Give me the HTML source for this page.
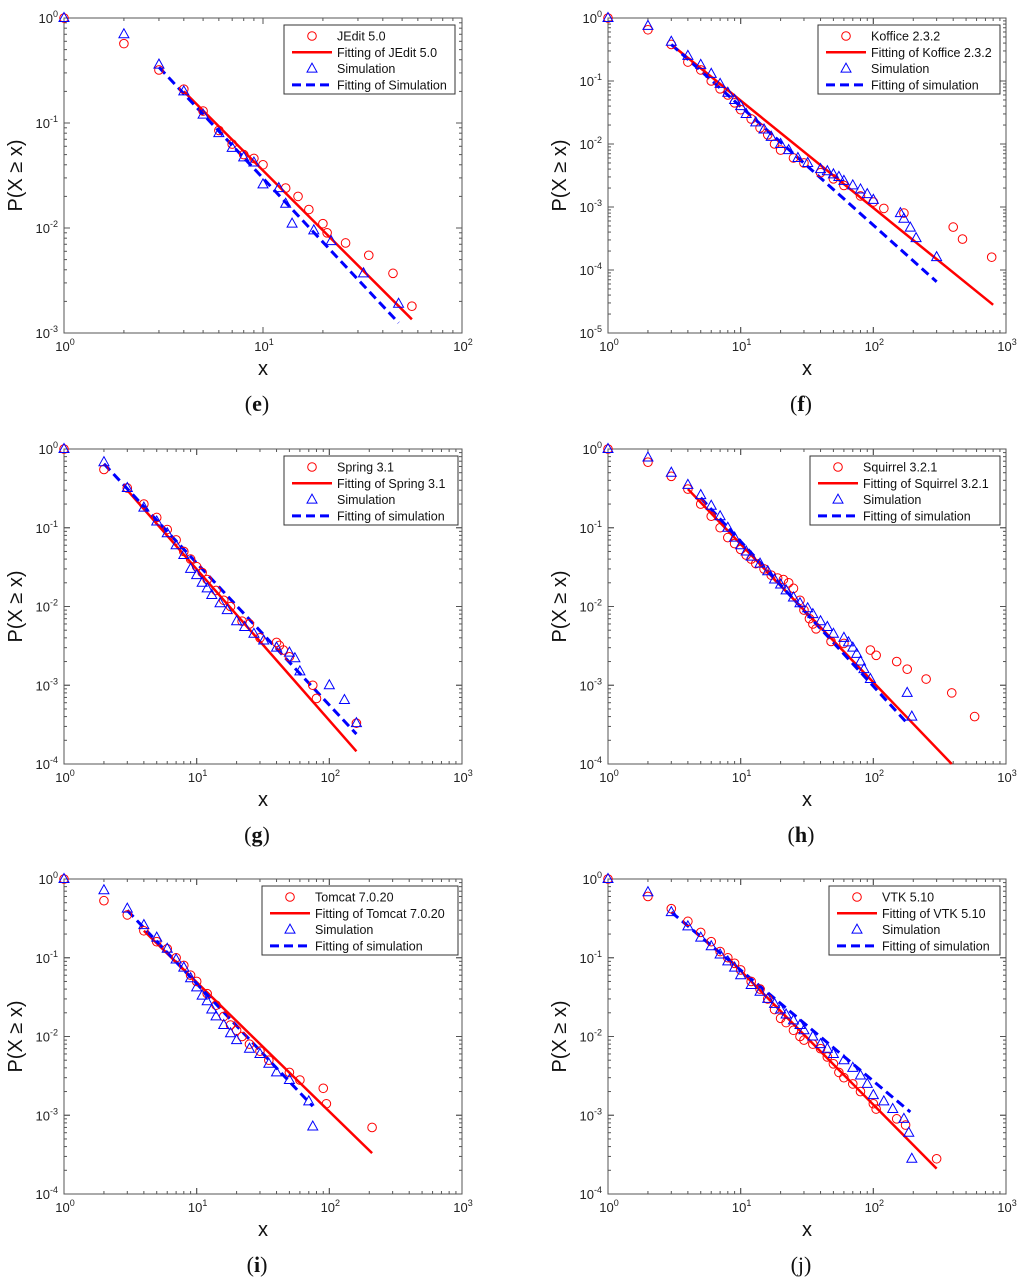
<!DOCTYPE html>
<html><head><meta charset="utf-8"><style>
html,body{margin:0;padding:0;background:#fff;}
svg{display:block;font-family:"Liberation Sans",Arial,sans-serif;}
</style></head><body>
<svg id="fig" width="1024" height="1284" viewBox="0 0 1024 1284" xmlns="http://www.w3.org/2000/svg"></svg>
<script>
// ---- data arrays ----
const eRedX=[1,2,3,4,5,6,7,8,9,10,13,15,17,20,21,26,34,45,56];
const eRedY=[1,0.57,0.32,0.21,0.13,0.085,0.063,0.05,0.046,0.04,0.024,0.02,0.015,0.011,0.009,0.0072,0.0055,0.0037,0.0018];
const eBlueX=[1,2,3,4,5,6,7,8,9,10,12,13,14,18,22,32,48];
const eBlueY=[1,0.7,0.36,0.2,0.12,0.08,0.058,0.047,0.042,0.026,0.024,0.017,0.011,0.0095,0.0075,0.0037,0.0019];
const eRedFitX=[4,56], eRedFitY=[0.2,0.00135];
const eBlueFitX=[3,48], eBlueFitY=[0.34,0.00125];

const fRedX=[1,2,3,4,5,6,7,8,9,10,12,14,16,18,20,25,30,40,50,60,80,100,120,170,400,470,780];
const fRedY=[1,0.65,0.38,0.2,0.15,0.1,0.075,0.06,0.045,0.035,0.025,0.018,0.014,0.01,0.008,0.006,0.005,0.0035,0.0028,0.0022,0.0015,0.0012,0.00095,0.0008,0.00048,0.00031,0.00016];
const fBlueX=[1,2,3,4,5,6,7,8,9,10,11,13,15,17,20,23,27,32,40,45,50,55,60,70,80,90,100,160,170,190,210,300];
const fBlueY=[1,0.75,0.42,0.25,0.18,0.13,0.09,0.065,0.05,0.04,0.03,0.022,0.017,0.013,0.01,0.008,0.006,0.005,0.004,0.0037,0.0033,0.003,0.0026,0.0022,0.0019,0.0016,0.0013,0.0008,0.00065,0.00047,0.00032,0.00016];
const fRedFitX=[3,800], fRedFitY=[0.38,2.8e-5];
const fBlueFitX=[3,300], fBlueFitY=[0.38,6.5e-5];

const gRedX=[1,2,3,4,5,6,7,8,9,10,11,12,14,16,18,22,25,30,40,42,45,50,75,80,160];
const gRedY=[1,0.55,0.32,0.2,0.135,0.095,0.07,0.05,0.04,0.032,0.027,0.022,0.016,0.012,0.01,0.0065,0.006,0.004,0.0035,0.0032,0.0028,0.0023,0.001,0.00068,0.00033];
const gBlueX=[1,2,3,4,5,6,7,8,9,10,11,12,13,15,17,20,23,27,32,40,50,55,60,100,130,160];
const gBlueY=[1,0.68,0.32,0.18,0.12,0.085,0.06,0.045,0.03,0.025,0.02,0.017,0.014,0.011,0.009,0.0065,0.0055,0.0045,0.0037,0.003,0.0026,0.0022,0.0015,0.001,0.00065,0.00033];
const gRedFitX=[3,160], gRedFitY=[0.3,1.45e-4];
const gBlueFitX=[2,160], gBlueFitY=[0.65,2.4e-4];

const hRedX=[1,2,3,4,5,6,7,8,9,10,11,12,13,15,17,19,21,23,25,28,30,33,35,37,48,60,95,105,150,180,250,390,580];
const hRedY=[1,0.68,0.45,0.31,0.2,0.14,0.1,0.075,0.063,0.053,0.045,0.04,0.035,0.03,0.025,0.023,0.022,0.02,0.017,0.012,0.009,0.007,0.006,0.0052,0.0036,0.0034,0.0028,0.0024,0.002,0.0016,0.0012,0.0008,0.0004];
const hBlueX=[1,2,3,4,5,6,7,8,9,10,11,12,14,16,18,20,22,25,28,32,35,40,45,50,60,65,70,75,80,85,95,180,195];
const hBlueY=[1,0.78,0.5,0.35,0.26,0.19,0.14,0.1,0.075,0.06,0.05,0.043,0.035,0.028,0.022,0.019,0.016,0.013,0.011,0.0095,0.008,0.0065,0.0055,0.0045,0.004,0.0035,0.003,0.0025,0.002,0.0016,0.0012,0.0008,0.0004];
const hRedFitX=[4,390], hRedFitY=[0.31,1e-4];
const hBlueFitX=[5,180], hBlueFitY=[0.24,3.3e-4];

const iRedX=[1,2,3,4,5,6,7,8,9,10,12,14,16,18,20,22,25,30,35,50,60,90,95,210];
const iRedY=[1,0.53,0.35,0.22,0.16,0.13,0.1,0.08,0.06,0.05,0.035,0.025,0.018,0.014,0.012,0.01,0.008,0.0065,0.005,0.0035,0.0028,0.0022,0.0014,0.0007];
const iBlueX=[1,2,3,4,5,6,7,8,9,10,11,12,13,14,16,18,20,25,30,35,40,50,70,75];
const iBlueY=[1,0.72,0.42,0.26,0.18,0.13,0.095,0.075,0.055,0.042,0.033,0.028,0.022,0.018,0.014,0.011,0.009,0.007,0.006,0.0045,0.0035,0.0028,0.0015,0.00072];
const iRedFitX=[4,210], iRedFitY=[0.22,3.3e-4];
const iBlueFitX=[3,75], iBlueFitY=[0.4,0.0013];

const jRedX=[1,2,3,4,5,6,7,8,9,10,12,14,16,18,20,22,25,28,30,35,40,45,50,55,60,70,80,100,105,150,175,300];
const jRedY=[1,0.6,0.42,0.29,0.21,0.16,0.12,0.1,0.085,0.07,0.05,0.04,0.03,0.022,0.017,0.015,0.012,0.01,0.009,0.008,0.007,0.0055,0.0045,0.0035,0.003,0.0025,0.002,0.0014,0.0012,0.0009,0.00075,0.00028];
const jBlueX=[1,2,3,4,5,6,7,8,9,10,12,14,16,18,20,22,25,28,30,35,40,45,50,60,70,80,90,100,120,140,170,185,195];
const jBlueY=[1,0.68,0.38,0.25,0.18,0.14,0.11,0.09,0.075,0.06,0.045,0.037,0.03,0.026,0.022,0.019,0.016,0.014,0.012,0.01,0.008,0.007,0.006,0.005,0.004,0.0032,0.0025,0.0018,0.0015,0.0012,0.0009,0.0006,0.00028];
const jRedFitX=[8,300], jRedFitY=[0.1,2.1e-4];
const jBlueFitX=[3,190], jBlueFitY=[0.38,0.0011];

const legendNames={e:["JEdit 5.0","Fitting of JEdit 5.0","Simulation","Fitting of Simulation"],
 f:["Koffice 2.3.2","Fitting of Koffice 2.3.2","Simulation","Fitting of simulation"],
 g:["Spring 3.1","Fitting of Spring 3.1","Simulation","Fitting of simulation"],
 h:["Squirrel 3.2.1","Fitting of Squirrel 3.2.1","Simulation","Fitting of simulation"],
 i:["Tomcat 7.0.20","Fitting of Tomcat 7.0.20","Simulation","Fitting of simulation"],
 j:["VTK 5.10","Fitting of VTK 5.10","Simulation","Fitting of simulation"]};

const NS="http://www.w3.org/2000/svg";
const fig=document.getElementById('fig');
function mk(tag,attrs,parent){const el=document.createElementNS(NS,tag);for(const k in attrs)el.setAttribute(k,attrs[k]);(parent||fig).appendChild(el);return el;}

function panel(id,L,T,xDec,yDec,legX,legW,rx,ry,bx,by,rfx,rfy,bfx,bfy){
  const W=398,H=315;
  const g=mk('g',{});
  
  
  const sx=v=>L+Math.log10(v)/xDec*W;
  const sy=v=>T+(-Math.log10(v))/yDec*H;
  const frame=mk('rect',{x:L,y:T,width:W,height:H,fill:'#fff',stroke:'#555','stroke-width':1},g);
  
  
  for(let d=0;d<xDec;d++){for(let m=1;m<=10;m++){const v=Math.pow(10,d)*m;const x=sx(v);const len=(m===1||m===10)?6:3;
    mk('line',{x1:x,y1:T+H,x2:x,y2:T+H-len,stroke:'#555'},g);mk('line',{x1:x,y1:T,x2:x,y2:T+len,stroke:'#555'},g);}}
  for(let d=0;d<yDec;d++){for(let m=1;m<=10;m++){const v=Math.pow(10,-d-1)*m;const y=sy(v);const len=(m===1||m===10)?6:3;
    mk('line',{x1:L,y1:y,x2:L+len,y2:y,stroke:'#555'},g);mk('line',{x1:L+W,y1:y,x2:L+W-len,y2:y,stroke:'#555'},g);}}
  for(let d=0;d<=xDec;d++){const t=mk('text',{x:sx(Math.pow(10,d))+1,y:T+H+18,'font-size':13,'text-anchor':'middle',fill:'#222'},g);
    
    t.innerHTML='10<tspan dy="-6" font-size="9">'+d+'</tspan>';}
  for(let d=0;d<=yDec;d++){const t=mk('text',{x:L-6,y:sy(Math.pow(10,-d))+5,'font-size':13,'text-anchor':'end',fill:'#222'},g);
    
    t.innerHTML='10<tspan dy="-6" font-size="9">'+(d===0?'0':'-'+d)+'</tspan>';}
  const xl=mk('text',{x:L+W/2,y:T+H+42,'font-size':20,'text-anchor':'middle',fill:'#111'},g);xl.textContent='x';
  
  const yl=mk('text',{x:0,y:0,'font-size':20,'text-anchor':'middle',fill:'#111',transform:'translate('+(L-42)+','+(T+H/2)+') rotate(-90)'},g);yl.textContent='P(X \u2265 x)';
  
  const cap=mk('text',{x:L+W/2-6,y:T+H+78,'font-size':22,'text-anchor':'middle',fill:'#111','font-family':'"Liberation Serif",serif'},g);
  cap.innerHTML= id==='j' ? '(j)' : '(<tspan font-weight="bold">'+id+'</tspan>)';
  
  const rf=mk('line',{x1:sx(rfx[0]),y1:sy(rfy[0]),x2:sx(rfx[1]),y2:sy(rfy[1]),stroke:'#f00','stroke-width':2.5},g);
  
  const bf=mk('line',{x1:sx(bfx[0]),y1:sy(bfy[0]),x2:sx(bfx[1]),y2:sy(bfy[1]),stroke:'#00f','stroke-width':3,'stroke-dasharray':'9,5'},g);
  
  for(let k=0;k<rx.length;k++){const c=mk('circle',{cx:sx(rx[k]),cy:sy(ry[k]),r:4.3,fill:'none',stroke:'#f00','stroke-width':1},g);
    }
  for(let k=0;k<bx.length;k++){const x=sx(bx[k]),y=sy(by[k]);
    const p=mk('polygon',{points:(x)+','+(y-5.5)+' '+(x-5)+','+(y+3.5)+' '+(x+5)+','+(y+3.5),fill:'none',stroke:'#00f','stroke-width':1},g);
    }
  const lg=mk('g',{},g);
  
  const ly=T+7;
  mk('rect',{x:legX,y:ly,width:legW,height:69,fill:'#fff',stroke:'#333'},lg);
  const names=legendNames[id];
  for(let r=0;r<4;r++){const yy=ly+11+r*16.3;const cx=legX+28;
    if(r===0)mk('circle',{cx:cx,cy:yy,r:4.3,fill:'none',stroke:'#f00'},lg);
    if(r===1)mk('line',{x1:legX+8,y1:yy,x2:legX+48,y2:yy,stroke:'#f00','stroke-width':2.5},lg);
    if(r===2)mk('polygon',{points:cx+','+(yy-5.5)+' '+(cx-5)+','+(yy+3.5)+' '+(cx+5)+','+(yy+3.5),fill:'none',stroke:'#00f'},lg);
    if(r===3)mk('line',{x1:legX+8,y1:yy,x2:legX+48,y2:yy,stroke:'#00f','stroke-width':3,'stroke-dasharray':'9,5'},lg);
    const t=mk('text',{x:legX+53,y:yy+4.5,'font-size':12.5,fill:'#111'},lg);t.textContent=names[r];
    }
}
panel('e',64,18,2,3,284,171,eRedX,eRedY,eBlueX,eBlueY,eRedFitX,eRedFitY,eBlueFitX,eBlueFitY);
panel('f',608,18,3,5,818,182,fRedX,fRedY,fBlueX,fBlueY,fRedFitX,fRedFitY,fBlueFitX,fBlueFitY);
panel('g',64,449,3,4,284,174,gRedX,gRedY,gBlueX,gBlueY,gRedFitX,gRedFitY,gBlueFitX,gBlueFitY);
panel('h',608,449,3,4,810,190,hRedX,hRedY,hBlueX,hBlueY,hRedFitX,hRedFitY,hBlueFitX,hBlueFitY);
panel('i',64,879,3,4,262,196,iRedX,iRedY,iBlueX,iBlueY,iRedFitX,iRedFitY,iBlueFitX,iBlueFitY);
panel('j',608,879,3,4,829,171,jRedX,jRedY,jBlueX,jBlueY,jRedFitX,jRedFitY,jBlueFitX,jBlueFitY);
</script>
</body></html>
